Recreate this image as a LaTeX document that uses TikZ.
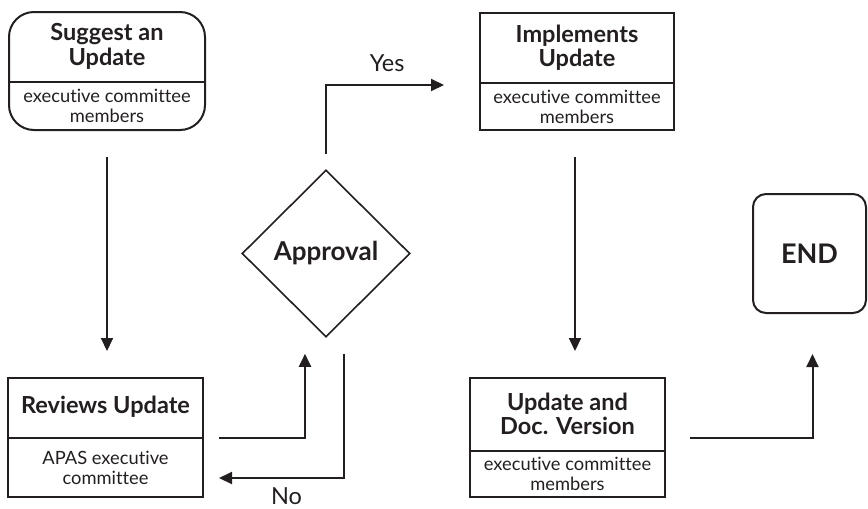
\documentclass[tikz,border=0pt]{standalone}
\usepackage{fontspec}
\setmainfont{Lato}[Ligatures=NoCommon]
\usepackage{tikz}
\usetikzlibrary{
    arrows.meta,
    shapes.geometric,
    positioning,
    calc
}
\definecolor{ink}{HTML}{231F20}
\tikzset{
    box/.style={draw=ink, line width=2pt, inner sep=0pt},
    title/.style={text=ink, align=center, font=\fontsize{23.5}{24.5}\selectfont\bfseries},
    sub/.style={text=ink, align=center, font=\fontsize{18.3}{20}\selectfont},
    flow/.style={draw=ink, line width=2pt, -{Triangle[length=13pt,width=12pt]}},
    lbl/.style={text=ink, inner sep=1pt, font=\fontsize{23.5}{26}\selectfont}
}

\begin{document}
\begin{tikzpicture}[x=1pt, y=-1pt]
    \useasboundingbox (0,0) rectangle (868,509);
    % suggest
    \node[box, rounded corners=25pt, minimum width=196pt, minimum height=118pt] (sug) at (107,71) {};
    \node[title] (sugT) at (107,46.5) {Suggest an\\Update};
    \node[sub] (sugS) at (107,106) {executive committee\\members};
    \draw[ink, line width=2pt] (sug.west |- 0,82) -- (sug.east |- 0,82);
    % implements
    \node[box, minimum width=194pt, minimum height=117pt] (imp) at (577,71.5) {};
    \node[title] (impT) at (577,47.5) {Implements\\Update};
    \node[sub] (impS) at (577,106.5) {executive committee\\members};
    \draw[ink, line width=2pt] (imp.west |- 0,83) -- (imp.east |- 0,83);
    % reviews
    \node[box, minimum width=195pt, minimum height=119pt] (rev) at (105.5,437.5) {};
    \node[title] (revT) at (105.5,407) {Reviews Update};
    \node[sub] (revS) at (105.5,467.5) {APAS executive\\committee};
    \draw[ink, line width=2pt] (rev.west |- 0,438) -- (rev.east |- 0,438);
    % update
    \node[box, minimum width=195pt, minimum height=119pt] (upd) at (567.5,437.5) {};
    \node[title] (updT) at (567.5,414) {Update and\\Doc. Version};
    \node[sub] (updS) at (567.5,474) {executive committee\\members};
    \draw[ink, line width=2pt] (upd.west |- 0,451) -- (upd.east |- 0,451);
    % approval and end
    \node[draw=ink, line width=1.6pt, diamond, minimum width=168pt, minimum height=167pt, inner sep=0pt,
        text=ink, font=\fontsize{26}{30}\selectfont\bfseries] (appr) at (326,253.5) {Approval};
    \node[box, rounded corners=13pt, minimum width=113pt, minimum height=119pt,
        text=ink, font=\fontsize{27}{30}\selectfont\bfseries] (end) at (809.5,253.5) {END};
    % flow
    \draw[flow, shorten <=26pt, shorten >=26pt] (sug.south) -- (sug.south |- rev.north);
    \draw[flow, shorten <=26pt, shorten >=26pt] ([xshift=-2pt]imp.south) -- ([xshift=-2pt]imp.south |- upd.north);
    \draw[flow, shorten >=16pt] ([xshift=15pt]rev.east) -| ([xshift=-21pt]appr.south);
    \draw[flow, shorten <=16pt] ([xshift=18pt]appr.south) |- ([xshift=15pt, yshift=-40.5pt]rev.east)
        node[lbl, pos=0.73, below=7.5pt] {No};
    \draw[flow, shorten <=15pt, shorten >=35pt] (appr.north) |- ([yshift=-13.5pt]imp.west)
        node[lbl, pos=0.7, above=11pt] {Yes};
    \draw[flow, shorten >=40pt] ([xshift=24pt]upd.east) -| ([xshift=3pt]end.south);
\end{tikzpicture}
\end{document}
